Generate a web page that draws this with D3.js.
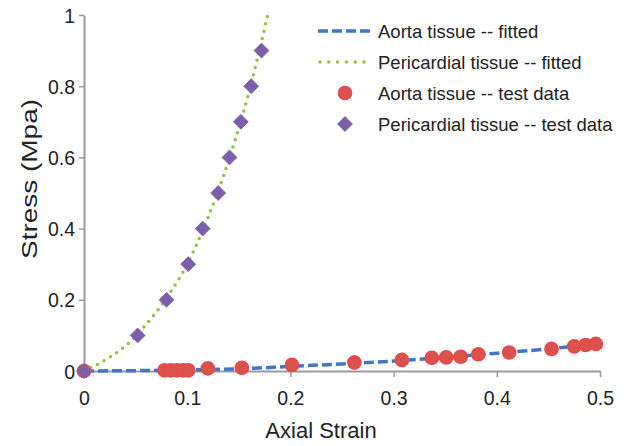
<!DOCTYPE html>
<html>
<head>
<meta charset="utf-8">
<script src="https://cdn.jsdelivr.net/npm/d3@7"></script>
<style>
  body { margin: 0; background: #fff; }
  text { font-family: "Liberation Sans", Arial, sans-serif; fill: #222; }
</style>
</head>
<body>
<svg id="chart" width="626" height="446"></svg>
<script>
// aorta test data (strain, stress)
const aortaStrain = [0, 0.078, 0.084, 0.09, 0.096, 0.101, 0.12, 0.153, 0.2015, 0.262, 0.308, 0.337, 0.351, 0.365, 0.382, 0.412, 0.453, 0.475, 0.486, 0.496];
const aortaStress = [0, 0.002, 0.002, 0.002, 0.002, 0.002, 0.0075, 0.009, 0.017, 0.024, 0.031, 0.037, 0.038, 0.04, 0.047, 0.052, 0.062, 0.069, 0.073, 0.076];

// pericardial test data
const periStrain = [0, 0.052, 0.08, 0.101, 0.115, 0.13, 0.141, 0.152, 0.162, 0.172];
const periStress = [0, 0.1, 0.2, 0.3, 0.4, 0.5, 0.6, 0.7, 0.8, 0.9];

// fitted curves
const aortaFitStrain = [0, 0.05, 0.1, 0.15, 0.2, 0.25, 0.3, 0.35, 0.4, 0.45, 0.5];
const aortaFitStress = [0, 0.001, 0.003, 0.006, 0.013, 0.02, 0.028, 0.038, 0.05, 0.062, 0.078];
const periFitStrain = [0, 0.02, 0.04, 0.06, 0.08, 0.1, 0.12, 0.14, 0.16, 0.178];
const periFitStress = [0, 0.03, 0.07, 0.13, 0.205, 0.3, 0.43, 0.59, 0.785, 1.0];

const xTicks = [0, 0.1, 0.2, 0.3, 0.4, 0.5];
const yTicks = [0, 0.2, 0.4, 0.6, 0.8, 1];

const legendLabels = ["Aorta tissue -- fitted", "Pericardial tissue -- fitted", "Aorta tissue -- test data", "Pericardial tissue -- test data"];

const blue = "#3f77c4", green = "#8fc33f", red = "#d9534c", purple = "#7a60a8";

const svg = d3.select("#chart");
const x = d3.scaleLinear().domain([0, 0.5]).range([84, 600]);
const y = d3.scaleLinear().domain([0, 1]).range([371, 15]);

// axes
const xAxis = svg.append("g").attr("transform", `translate(0,${y(0)})`)
    .call(d3.axisBottom(x).tickValues(xTicks).tickSize(6).tickSizeOuter(0).tickFormat(d3.format("~g")));
const yAxis = svg.append("g").attr("transform", `translate(${x(0)},0)`)
    .call(d3.axisLeft(y).tickValues(yTicks).tickSize(5).tickSizeOuter(0).tickFormat(d3.format("~g")));
[xAxis, yAxis].forEach(a => {
    a.select(".domain").attr("stroke", "#9a9a9a").attr("stroke-width", 2);
    a.selectAll(".tick line").attr("stroke", "#9a9a9a").attr("stroke-width", 1.5);
    a.selectAll(".tick text").attr("font-size", 19.5).attr("fill", "#222")
        .attr("font-family", "Liberation Sans, Arial, sans-serif");
});
xAxis.selectAll(".tick text").attr("dy", "1.3em");
yAxis.selectAll(".tick text").attr("x", -9).attr("dy", "0.36em");

svg.append("text").attr("x", 321).attr("y", 438).attr("text-anchor", "middle")
    .attr("font-size", 22).text("Axial Strain");
svg.append("text").attr("transform", "translate(37,179) rotate(-90)").attr("text-anchor", "middle")
    .attr("font-size", 22).attr("textLength", 160).attr("lengthAdjust", "spacingAndGlyphs")
    .text("Stress (Mpa)");

const line = d3.line().x(d => x(d[0])).y(d => y(d[1])).curve(d3.curveMonotoneX);

svg.append("path").datum(aortaFitStrain.map((s, i) => [s, aortaFitStress[i]]))
    .attr("d", line).attr("fill", "none").attr("stroke", blue)
    .attr("stroke-width", 3.5).attr("stroke-dasharray", "10,4");

svg.append("path").datum(periFitStrain.map((s, i) => [s, periFitStress[i]]))
    .attr("d", line).attr("fill", "none").attr("stroke", green)
    .attr("stroke-width", 3.5).attr("stroke-linecap", "round").attr("stroke-dasharray", "0,7.5");

// aorta markers
svg.append("g").selectAll("circle")
    .data(aortaStrain.map((s, i) => [s, aortaStress[i]]))
    .join("circle")
    .attr("cx", d => x(d[0])).attr("cy", d => y(d[1])).attr("r", 6.6)
    .attr("fill", red).attr("stroke", "#e8484a").attr("stroke-width", 1.5);

// pericardial markers
const diamond = d3.symbol().type(d3.symbolDiamond2).size(140);
svg.append("g").selectAll("path")
    .data(periStrain.map((s, i) => [s, periStress[i]]))
    .join("path")
    .attr("d", diamond)
    .attr("transform", d => `translate(${x(d[0])},${y(d[1])})`)
    .attr("fill", purple).attr("stroke", "#8a5fb0").attr("stroke-width", 1);

// legend
const legend = svg.append("g");
const rows = [31, 62, 93, 124];
legend.append("line").attr("x1", 318).attr("x2", 372).attr("y1", rows[0]).attr("y2", rows[0])
    .attr("stroke", blue).attr("stroke-width", 3.5).attr("stroke-dasharray", "10,4");
legend.append("line").attr("x1", 320).attr("x2", 372).attr("y1", rows[1]).attr("y2", rows[1])
    .attr("stroke", green).attr("stroke-width", 3.5).attr("stroke-linecap", "round").attr("stroke-dasharray", "0,8.8");
legend.append("circle").attr("cx", 345).attr("cy", rows[2]).attr("r", 6.6)
    .attr("fill", red).attr("stroke", "#e8484a").attr("stroke-width", 1.5);
legend.append("path").attr("d", diamond).attr("transform", `translate(345,${rows[3]})`)
    .attr("fill", purple).attr("stroke", "#8a5fb0").attr("stroke-width", 1);
legend.selectAll("text.lab").data(legendLabels).join("text")
    .attr("class", "lab")
    .attr("x", 378).attr("y", (d, i) => rows[i]).attr("dy", "0.36em")
    .attr("font-size", 18.5).text(d => d);
</script>
</body>
</html>
